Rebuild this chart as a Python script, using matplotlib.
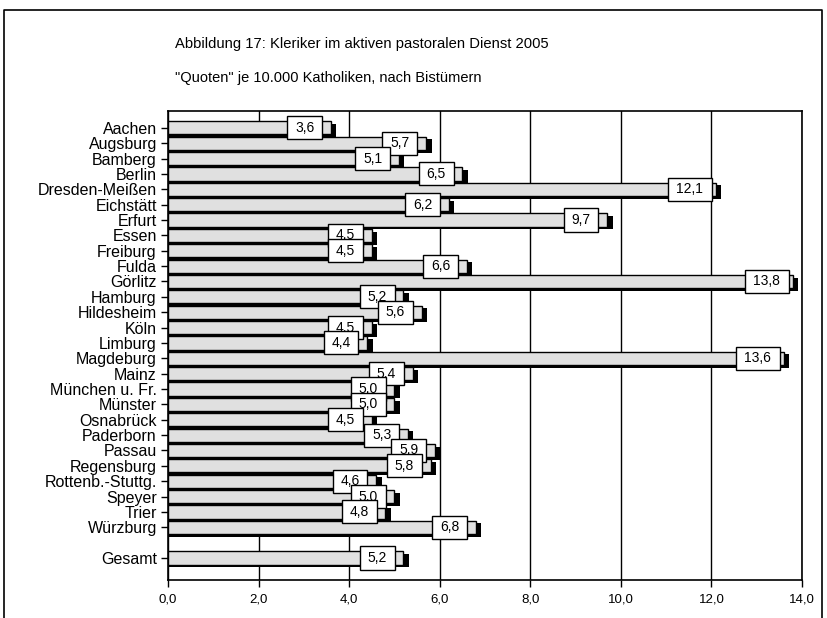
import numpy as np
import matplotlib
matplotlib.use("Agg")
import matplotlib.pyplot as plt
from matplotlib.patches import Rectangle
from matplotlib.lines import Line2D

plt.rcParams['font.family'] = ['Liberation Sans', 'DejaVu Sans']

# data
bistuemer = ["Aachen", "Augsburg", "Bamberg", "Berlin", "Dresden-Meißen", "Eichstätt",
             "Erfurt", "Essen", "Freiburg", "Fulda", "Görlitz", "Hamburg", "Hildesheim",
             "Köln", "Limburg", "Magdeburg", "Mainz", "München u. Fr.", "Münster",
             "Osnabrück", "Paderborn", "Passau", "Regensburg", "Rottenb.-Stuttg.",
             "Speyer", "Trier", "Würzburg"]
quoten = [3.6, 5.7, 5.1, 6.5, 12.1, 6.2, 9.7, 4.5, 4.5, 6.6, 13.8, 5.2, 5.6, 4.5, 4.4,
          13.6, 5.4, 5.0, 5.0, 4.5, 5.3, 5.9, 5.8, 4.6, 5.0, 4.8, 6.8]
gesamt_label = "Gesamt"
gesamt_wert = 5.2

names = bistuemer + [gesamt_label]
values = quoten + [gesamt_wert]
ypos = list(range(len(bistuemer))) + [len(bistuemer) + 1]

fig = plt.figure(figsize=(8.27, 6.18), dpi=100)
ax = fig.add_axes([0.2031, 0.0615, 0.7667, 0.759])

# outer frame
fig.add_artist(Line2D([0.005, 0.005, 0.994, 0.994], [0.0, 0.984, 0.984, 0.0],
                      transform=fig.transFigure, color='black', lw=1.2))

fig.text(0.212, 0.929, "Abbildung 17: Kleriker im aktiven pastoralen Dienst 2005",
         fontsize=10.6, va='center')
fig.text(0.212, 0.873, '"Quoten" je 10.000 Katholiken, nach Bistümern',
         fontsize=10.5, va='center')

h = 0.86
# schatten
ax.barh([y + 0.18 for y in ypos], [v + 0.12 for v in values], height=h,
        color='black', zorder=2)
ax.barh(ypos, values, height=h, color='#e0e0e0', edgecolor='black', lw=1.0, zorder=3)

for i, (y, v) in enumerate(zip(ypos, values)):
    lab = f"{v:.1f}".replace(".", ",")
    w = 0.2 * len(lab) + 0.17
    cx = v - 0.58
    ax.add_patch(Rectangle((cx - w / 2, y - 0.75), w, 1.5, facecolor='white',
                           edgecolor='black', lw=1.0, zorder=4 + i * 0.01))
    ax.text(cx, y, lab, ha='center', va='center', fontsize=10, zorder=4 + i * 0.01 + 0.005)

ax.set_xlim(0, 14)
ax.set_ylim(len(bistuemer) + 1 + 1.43, -1.1)
ax.set_xticks(np.arange(0, 15, 2))
ax.set_xticklabels([f"{t:.1f}".replace(".", ",") for t in np.arange(0, 15, 2)], fontsize=9.5)
ax.set_yticks(ypos)
ax.set_yticklabels(names, fontsize=11.5)
ax.tick_params(axis='y', length=5, width=1, pad=3)
ax.tick_params(axis='x', length=5, width=1, pad=5)
ax.grid(axis='x', color='black', lw=1.0, zorder=1)
ax.set_axisbelow(True)
for s in ax.spines.values():
    s.set_linewidth(1.2)

plt.savefig("out.png", dpi=100)
